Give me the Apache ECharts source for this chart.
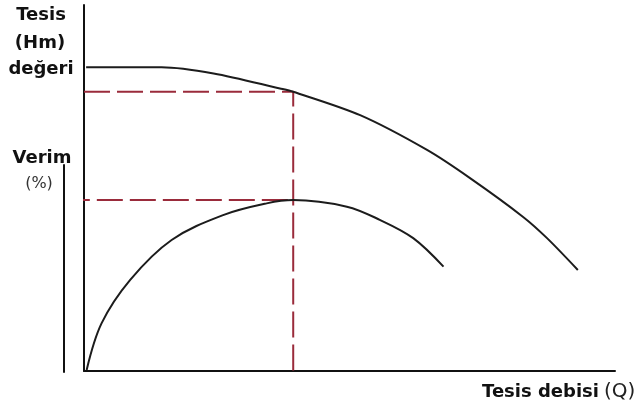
<!DOCTYPE html>
<html>
<head>
<meta charset="utf-8">
<script src="https://cdn.jsdelivr.net/npm/echarts@6/dist/echarts.min.js"></script>
<style>
  html, body { margin: 0; padding: 0; background: #fff; }
  #chart { width: 642px; height: 413px; }
</style>
</head>
<body>
<div id="chart"></div>
<script>
// debi (Q) - basma yüksekliği (Hm) eğrisi, eksen birimleri 0..100
var hmCurve = [
  [0.4, 83.0], [14.6, 83.0], [24.4, 81.3], [36.9, 77.2], [39.4, 76.3],
  [52.0, 69.9], [64.6, 60.4], [72.7, 52.7], [82.7, 42.1], [87.2, 36.3],
  [93.0, 27.6]
]
// verim eğrisi
var verimCurve = [
  [0.5, 0.3], [3.3, 13.0], [8.7, 24.9], [16.5, 35.8], [26.2, 42.6],
  [34.4, 45.8], [39.4, 46.7], [49.5, 44.9], [55.7, 41.3], [62.0, 36.3],
  [67.7, 28.5]
]
// çalışma noktası: Q, Hm, verim
var isletmeQ = 39.4
var isletmeHm = 76.3
var isletmeVerim = 46.7
var verimEksenX = -3.8

var hmLabels = ['Tesis', '(Hm)', 'değeri']
var verimLabels = ['Verim', '(%)']
var qLabel = 'Tesis debisi'
var qUnit = '(Q)'

var curveStyle = { color: '#1c1c1c', width: 2 }
var dashStyle = { color: '#9a2b3b', width: 2, type: [26, 7] }

var myChart = echarts.init(document.getElementById('chart'))

var option = {
  animation: false,
  backgroundColor: '#fff',
  grid: [
    { left: 84, right: 27, top: 5, bottom: 42 },
    { left: 64, width: 1, top: 165, bottom: 41 }
  ],
  xAxis: [
    {
      type: 'value', min: 0, max: 100, gridIndex: 0,
      axisLine: { show: true, onZero: false, lineStyle: { color: '#111', width: 2 } },
      axisTick: { show: false }, axisLabel: { show: false }, splitLine: { show: false }
    },
    {
      type: 'value', min: 0, max: 1, gridIndex: 1, show: false
    }
  ],
  yAxis: [
    {
      type: 'value', min: 0, max: 100, gridIndex: 0,
      axisLine: { show: true, onZero: false, lineStyle: { color: '#111', width: 2 } },
      axisTick: { show: false }, axisLabel: { show: false }, splitLine: { show: false }
    },
    {
      type: 'value', min: 0, max: 100, gridIndex: 1,
      axisLine: { show: true, onZero: false, lineStyle: { color: '#111', width: 2 } },
      axisTick: { show: false }, axisLabel: { show: false }, splitLine: { show: false }
    }
  ],
  series: [
    {
      type: 'line', name: 'Hm', data: hmCurve, smooth: 0.3,
      showSymbol: false, lineStyle: curveStyle, z: 3
    },
    {
      type: 'line', name: 'Verim', data: verimCurve, smooth: 0.35,
      showSymbol: false, lineStyle: curveStyle, z: 3
    },
    {
      type: 'line', name: 'hm-kesik',
      data: [[0, isletmeHm], [isletmeQ, isletmeHm], [isletmeQ, 0]],
      showSymbol: false, lineStyle: dashStyle, z: 2
    },
    {
      type: 'line', name: 'verim-kesik', clip: false,
      data: [[verimEksenX, isletmeVerim], [isletmeQ, isletmeVerim]],
      showSymbol: false, lineStyle: dashStyle, z: 2
    }
  ],
  graphic: [
    { type: 'text', x: 41, y: 15, style: { text: hmLabels[0], font: 'bold 18px "DejaVu Sans"', fill: '#111', align: 'center', verticalAlign: 'middle' } },
    { type: 'text', x: 40, y: 43, style: { text: hmLabels[1], font: 'bold 18px "DejaVu Sans"', fill: '#111', align: 'center', verticalAlign: 'middle' } },
    { type: 'text', x: 41, y: 69, style: { text: hmLabels[2], font: 'bold 18px "DejaVu Sans"', fill: '#111', align: 'center', verticalAlign: 'middle' } },
    { type: 'text', x: 42, y: 158, style: { text: verimLabels[0], font: 'bold 18px "DejaVu Sans"', fill: '#111', align: 'center', verticalAlign: 'middle' } },
    { type: 'text', x: 39, y: 184, style: { text: verimLabels[1], font: '16px "DejaVu Sans"', fill: '#333', align: 'center', verticalAlign: 'middle' } },
    { type: 'text', x: 482, y: 392, style: { text: qLabel, font: 'bold 18px "DejaVu Sans"', fill: '#111', align: 'left', verticalAlign: 'middle' } },
    { type: 'text', x: 604, y: 392, style: { text: qUnit, font: '20px "DejaVu Sans"', fill: '#222', align: 'left', verticalAlign: 'middle' } }
  ]
}

myChart.setOption(option)
</script>
</body>
</html>
